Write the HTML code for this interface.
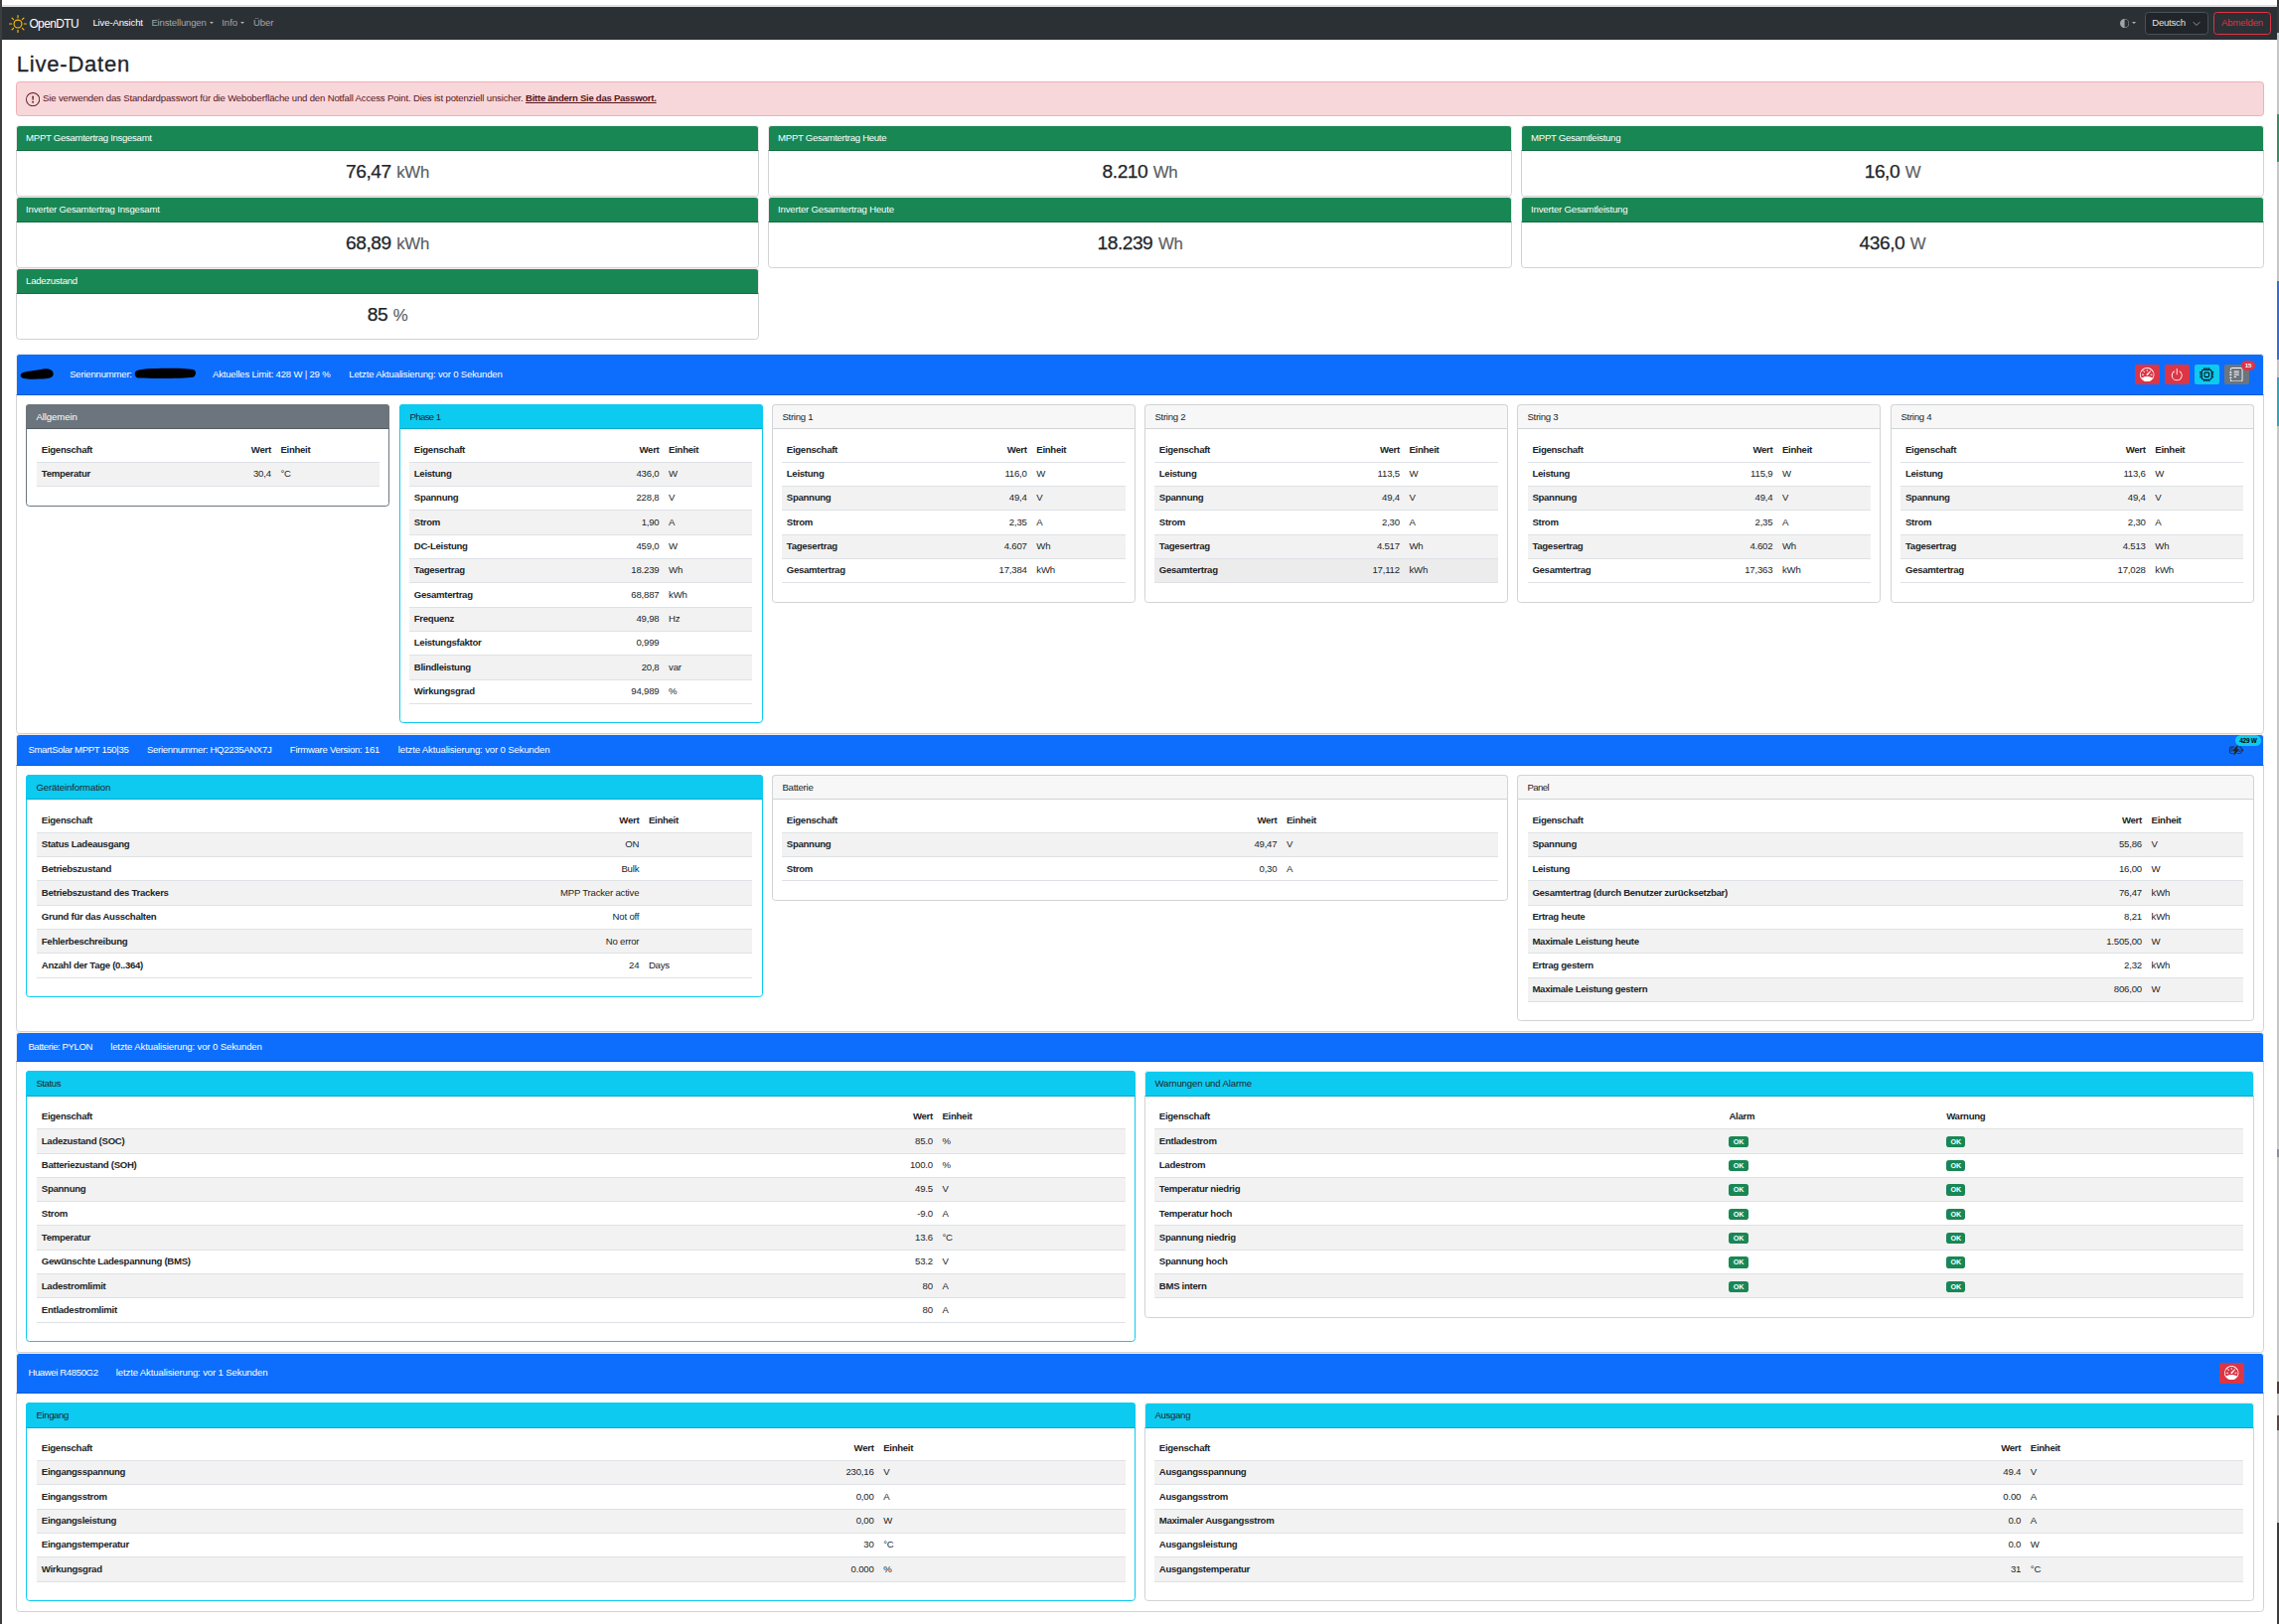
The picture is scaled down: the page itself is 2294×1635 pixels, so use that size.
<!DOCTYPE html>
<html lang="de"><head><meta charset="utf-8"><title>OpenDTU</title><style>
*{box-sizing:border-box}
html,body{margin:0;padding:0}
body{width:2294px;height:1635px;position:relative;overflow:hidden;background:#fff;
 font-family:"Liberation Sans",sans-serif;font-size:9.6px;line-height:14.4px;color:#212529;letter-spacing:-0.2px}
.a{position:absolute}
.nw{white-space:nowrap}
svg{display:block}
#lbar{left:0;top:0;width:2px;height:1635px;background:#3d3d3d}
#tline{left:2px;top:5px;width:2290px;height:2px;background:#dddfe1}
#nav{left:2px;top:7px;width:2290px;height:32.6px;background:#2b3035}
.nl{top:15.6px;height:14.4px;color:#a3a6a9;white-space:nowrap}
.caret{width:0;height:0;border-left:2.1px solid transparent;border-right:2.1px solid transparent;border-top:2.3px solid #b4b7ba}
#sel{left:2159.1px;top:12.1px;width:63.7px;height:22.8px;background:#212529;border:1px solid #495057;border-radius:3.6px}
#btnout{left:2228px;top:12.1px;width:58px;height:22.8px;border:1px solid #dc3545;border-radius:3.6px;color:#dc3545;text-align:center;line-height:20.4px;letter-spacing:-0.14px}
#h1{left:16.8px;top:49.5px;font-size:22px;line-height:30px;letter-spacing:0.78px;white-space:nowrap;-webkit-text-stroke:0.3px #212529}
#alert{left:16.3px;top:82px;width:2262.3px;height:35px;background:#f8d7da;border:1px solid #f1aeb5;border-radius:3.6px;color:#58151c}
.g{border:1px solid #d2d3d4;border-radius:3.6px;background:#fff;height:72px}
.gh{left:-1px;right:-1px;top:-1px;height:26px;border:1px solid #f2eaeb;border-bottom:1px solid #146c43;border-radius:3.6px 3.6px 0 0;background:#198754;color:#fff;padding-left:9.1px;line-height:24.2px;white-space:nowrap;letter-spacing:-0.29px}
.gb{left:0;right:0;top:25px;bottom:0;display:flex;justify-content:center;align-items:baseline;font-size:19.2px;line-height:23px;letter-spacing:-0.48px;padding-top:9.2px;white-space:nowrap;-webkit-text-stroke:0.25px #212529}
.gb small{-webkit-text-stroke:0.15px #5a5e62;font-size:16.8px;color:#5a5e62;letter-spacing:-0.29px;margin-left:5.6px}
.oc{border:1px solid #d2d3d4;border-radius:3.6px;background:#fff}
.oh{left:-1px;right:-1px;top:-1px;background:#0d6efd;border:1px solid #f4eee7;border-bottom:1px solid #0b5bd3;border-radius:3.6px 3.6px 0 0}
.ot{color:#fff;white-space:nowrap;height:14.4px}
.c{border:1px solid #d2d3d4;border-radius:3.6px;background:#fff}
.ch{left:-1px;right:-1px;top:-1px;height:25px;border:1px solid #d2d3d4;border-radius:3.6px 3.6px 0 0;background:#f7f7f7;padding-left:9.4px;line-height:23.6px;white-space:nowrap}
.c.info{border-color:#0dcaf0}
.info>.ch{background:#0dcaf0;border-color:#0dcaf0;border-bottom-color:#0ba9c9}
.ih>.ch{background:#0dcaf0;border-color:#f1ece6;border-bottom-color:#0ba9c9}
.c.sec{border-color:#6c757d}
.sec>.ch{background:#6c757d;border-color:#6c757d;color:#fff;border-bottom-color:#565e64}
table{position:absolute;border-collapse:separate;border-spacing:0;table-layout:fixed}
td,th{height:24.3125px;padding:0 4.8px;border-bottom:1px solid #dee2e6;vertical-align:middle;white-space:nowrap;overflow:visible;text-align:left;font-weight:normal}
th{font-weight:bold;letter-spacing:-0.29px}
.r{text-align:right}
tr.s>*{background:#f2f2f2}
tr.h>*{background:#ececec}
.ok{display:inline-block;background:#198754;color:#fff;font-weight:bold;font-size:7.2px;line-height:11.4px;height:11.4px;width:19.3px;text-align:center;border-radius:2.8px;letter-spacing:-0.1px;vertical-align:middle;position:relative;top:0.3px}
.btn{width:25px;height:19.8px;border-radius:2.2px}
.btn svg{position:absolute;left:5.3px;top:2.7px;width:14.4px;height:14.4px}
.bd{background:#dc3545}.bi{background:#0dcaf0}.bs{background:#6c757d}
</style></head><body>
<div class="a" id="lbar"></div><div class="a" id="tline"></div>
<div class="a" id="nav"></div>
<div class="a" style="left:9px;top:14.9px;width:18px;height:18px"><svg viewBox="0 0 16 16" fill="#ffc107" style="width:18px;height:18px"><path d="M8 11a3 3 0 1 1 0-6 3 3 0 0 1 0 6zm0 1a4 4 0 1 0 0-8 4 4 0 0 0 0 8zM8 0a.5.5 0 0 1 .5.5v2a.5.5 0 0 1-1 0v-2A.5.5 0 0 1 8 0zm0 13a.5.5 0 0 1 .5.5v2a.5.5 0 0 1-1 0v-2A.5.5 0 0 1 8 13zm8-5a.5.5 0 0 1-.5.5h-2a.5.5 0 0 1 0-1h2a.5.5 0 0 1 .5.5zM3 8a.5.5 0 0 1-.5.5h-2a.5.5 0 0 1 0-1h2A.5.5 0 0 1 3 8zm10.657-5.657a.5.5 0 0 1 0 .707l-1.414 1.415a.5.5 0 1 1-.707-.708l1.414-1.414a.5.5 0 0 1 .707 0zm-9.193 9.193a.5.5 0 0 1 0 .707L3.05 13.657a.5.5 0 0 1-.707-.707l1.414-1.414a.5.5 0 0 1 .707 0zm9.193 2.121a.5.5 0 0 1-.707 0l-1.414-1.414a.5.5 0 0 1 .707-.707l1.414 1.414a.5.5 0 0 1 0 .707zM4.464 4.465a.5.5 0 0 1-.707 0L2.343 3.05a.5.5 0 1 1 .707-.707l1.414 1.414a.5.5 0 0 1 0 .708z"/></svg></div>
<div class="a nw" style="left:29.4px;top:14.6px;font-size:12px;line-height:18px;color:#fff;letter-spacing:-0.63px">OpenDTU</div>
<div class="a nl" style="left:93.4px;color:#fff;letter-spacing:-0.15px">Live-Ansicht</div>
<div class="a nl" style="left:152.4px;letter-spacing:-0.18px">Einstellungen</div><div class="a caret" style="left:210.5px;top:22.2px"></div>
<div class="a nl" style="left:223.2px;letter-spacing:0">Info</div><div class="a caret" style="left:242.1px;top:22.2px"></div>
<div class="a nl" style="left:255px;letter-spacing:-0.15px">Über</div>
<div class="a" style="left:2133.8px;top:18.9px;width:9.2px;height:9.2px"><svg viewBox="0 0 16 16" fill="#a3a6a9" style="width:9.2px;height:9.2px"><path d="M8 15A7 7 0 1 0 8 1v14zm0 1A8 8 0 1 1 8 0a8 8 0 0 1 0 16z"/></svg></div><div class="a caret" style="left:2146.2px;top:22px"></div>
<div class="a" id="sel"></div><div class="a nw" style="left:2166.2px;top:16.2px;color:#dee2e6;letter-spacing:-0.23px">Deutsch</div>
<svg class="a" style="left:2206.6px;top:20.6px;width:8px;height:6px" viewBox="0 0 8 6" fill="none" stroke="#aeb2b6" stroke-width="0.8" stroke-linecap="round" stroke-linejoin="round"><path d="M1 1.5l3 3 3-3"/></svg>
<div class="a" id="btnout">Abmelden</div>
<div class="a" id="h1">Live-Daten</div>
<div class="a" id="alert"><div class="a" style="left:8.7px;top:10.2px;width:14.2px;height:14.2px"><svg viewBox="0 0 16 16" fill="#58151c" style="width:14.2px;height:14.2px"><path d="M8 15A7 7 0 1 1 8 1a7 7 0 0 1 0 14zm0 1A8 8 0 1 0 8 0a8 8 0 0 0 0 16z"/><path d="M7.002 11a1 1 0 1 1 2 0 1 1 0 0 1-2 0zM7.1 4.995a.905.905 0 1 1 1.8 0l-.35 3.507a.552.552 0 0 1-1.1 0L7.1 4.995z"/></svg></div><div class="a nw" style="left:25.8px;top:8.6px;letter-spacing:-0.175px">Sie verwenden das Standardpasswort für die Weboberfläche und den Notfall Access Point. Dies ist potenziell unsicher. <b style="letter-spacing:-0.29px;text-decoration:underline">Bitte ändern Sie das Passwort.</b></div></div>
<div class="a g" style="left:16px;top:126px;width:748px"><div class="a gh" style="letter-spacing:-0.3px">MPPT Gesamtertrag Insgesamt</div><div class="a gb">76,47<small>kWh</small></div></div>
<div class="a g" style="left:773px;top:126px;width:749px"><div class="a gh" style="letter-spacing:-0.3px">MPPT Gesamtertrag Heute</div><div class="a gb">8.210<small>Wh</small></div></div>
<div class="a g" style="left:1531px;top:126px;width:748px"><div class="a gh" style="letter-spacing:-0.3px">MPPT Gesamtleistung</div><div class="a gb">16,0<small>W</small></div></div>
<div class="a g" style="left:16px;top:198px;width:748px"><div class="a gh" style="letter-spacing:-0.2px">Inverter Gesamtertrag Insgesamt</div><div class="a gb">68,89<small>kWh</small></div></div>
<div class="a g" style="left:773px;top:198px;width:749px"><div class="a gh" style="letter-spacing:-0.2px">Inverter Gesamtertrag Heute</div><div class="a gb">18.239<small>Wh</small></div></div>
<div class="a g" style="left:1531px;top:198px;width:748px"><div class="a gh" style="letter-spacing:-0.2px">Inverter Gesamtleistung</div><div class="a gb">436,0<small>W</small></div></div>
<div class="a g" style="left:16px;top:270px;width:748px"><div class="a gh" style="letter-spacing:-0.3px">Ladezustand</div><div class="a gb">85<small>%</small></div></div>
<div class="a oc" style="left:16px;top:356px;width:2263px;height:383px"><div class="a oh" style="height:42px"></div></div><div class="a ot" style="left:70.20px;top:369.80px;letter-spacing:-0.23px">Seriennummer:</div><div class="a ot" style="left:214px;top:369.80px;letter-spacing:-0.21px">Aktuelles Limit: 428 W | 29 %</div><div class="a ot" style="left:351.30px;top:369.80px;letter-spacing:-0.183px">Letzte Aktualisierung: vor 0 Sekunden</div>
<svg class="a" style="left:20.4px;top:369.6px;width:35px;height:13px" viewBox="0 0 35 13"><path d="M.8 7.4C1.4 5 5 4.200 11 3.500c5-.6 9-1.400 12.500-1.900 3-.5 5.600-.5 7.200.6 1.800.4 3 2.200 3 4.300.1 2.300-1.700 3.700-4.700 4.300-6 1-17 1.300-23.500.4C2.300 10.700.300 9.600.8 7.400z" fill="#000"/></svg>
<svg class="a" style="left:135px;top:369.6px;width:63px;height:12px" viewBox="0 0 63 12"><path d="M1.200 4.600C3 1.600 12 1.200 28 .8c15-.4 28 0 32.600 1.600 2.400 1.800 1.600 6-1.400 7.400-6 1.200-40 1.600-55 .8C1 10 .2 7 1.200 4.600z" fill="#000"/></svg>
<div class="a btn bd" style="left:2149.10px;top:367.10px"><svg viewBox="0 0 16 16" fill="#fff" style=""><path d="M8 2a.5.5 0 0 1 .5.5V4a.5.5 0 0 1-1 0V2.5A.5.5 0 0 1 8 2zM3.732 3.732a.5.5 0 0 1 .707 0l.915.914a.5.5 0 1 1-.708.708l-.914-.915a.5.5 0 0 1 0-.707zM2 8a.5.5 0 0 1 .5-.5h1.586a.5.5 0 0 1 0 1H2.5A.5.5 0 0 1 2 8zm9.5 0a.5.5 0 0 1 .5-.5h1.5a.5.5 0 0 1 0 1H12a.5.5 0 0 1-.5-.5zm.754-4.246a.389.389 0 0 0-.527-.02L7.547 7.31A.91.91 0 1 0 8.85 8.569l3.434-4.297a.389.389 0 0 0-.029-.518z"/><path fill-rule="evenodd" d="M6.664 15.889A8 8 0 1 1 9.336.11a8 8 0 0 1-2.672 15.78zm-4.665-4.283A11.945 11.945 0 0 1 8 10c2.186 0 4.236.585 6.001 1.606a7 7 0 1 0-12.002 0z"/></svg></div>
<div class="a btn bd" style="left:2179.10px;top:367.10px"><svg viewBox="0 0 16 16" fill="#fff" style=""><path d="M7.5 1v7h1V1h-1z"/><path d="M3 8.812a4.999 4.999 0 0 1 2.578-4.375l-.485-.874A6 6 0 1 0 11 3.616l-.501.865A5 5 0 1 1 3 8.812z"/></svg></div>
<div class="a btn bi" style="left:2209px;top:367.10px"><svg viewBox="0 0 16 16" fill="#000" style=""><path d="M5 0a.5.5 0 0 1 .5.5V2h1V.5a.5.5 0 0 1 1 0V2h1V.5a.5.5 0 0 1 1 0V2h1V.5a.5.5 0 0 1 1 0V2A2.5 2.5 0 0 1 14 4.5h1.5a.5.5 0 0 1 0 1H14v1h1.5a.5.5 0 0 1 0 1H14v1h1.5a.5.5 0 0 1 0 1H14v1h1.5a.5.5 0 0 1 0 1H14a2.5 2.5 0 0 1-2.5 2.5v1.5a.5.5 0 0 1-1 0V14h-1v1.5a.5.5 0 0 1-1 0V14h-1v1.5a.5.5 0 0 1-1 0V14h-1v1.5a.5.5 0 0 1-1 0V14A2.5 2.5 0 0 1 2 11.5H.5a.5.5 0 0 1 0-1H2v-1H.5a.5.5 0 0 1 0-1H2v-1H.5a.5.5 0 0 1 0-1H2v-1H.5a.5.5 0 0 1 0-1H2A2.5 2.5 0 0 1 4.5 2V.5A.5.5 0 0 1 5 0zm-.5 3A1.5 1.5 0 0 0 3 4.5v7A1.5 1.5 0 0 0 4.5 13h7a1.5 1.5 0 0 0 1.5-1.5v-7A1.5 1.5 0 0 0 11.5 3h-7zM5 6.5A1.5 1.5 0 0 1 6.5 5h3A1.5 1.5 0 0 1 11 6.5v3A1.5 1.5 0 0 1 9.5 11h-3A1.5 1.5 0 0 1 5 9.500v-3zM6.5 6a.5.5 0 0 0-.5.5v3a.5.5 0 0 0 .5.5h3a.5.5 0 0 0 .5-.5v-3a.5.5 0 0 0-.5-.5h-3z"/></svg></div>
<div class="a btn bs" style="left:2239px;top:367.10px"><svg viewBox="0 0 16 16" fill="#fff" style=""><path d="M5 10.5a.5.5 0 0 1 .5-.5h2a.5.5 0 0 1 0 1h-2a.5.5 0 0 1-.5-.5zm0-2a.5.5 0 0 1 .5-.5h5a.5.5 0 0 1 0 1h-5a.5.5 0 0 1-.5-.5zm0-2a.5.5 0 0 1 .5-.5h5a.5.5 0 0 1 0 1h-5a.5.5 0 0 1-.5-.5zm0-2a.5.5 0 0 1 .5-.5h5a.5.5 0 0 1 0 1h-5a.5.5 0 0 1-.5-.5z"/><path d="M3 0h10a2 2 0 0 1 2 2v12a2 2 0 0 1-2 2H3a2 2 0 0 1-2-2v-1h1v1a1 1 0 0 0 1 1h10a1 1 0 0 0 1-1V2a1 1 0 0 0-1-1H3a1 1 0 0 0-1 1v1H1V2a2 2 0 0 1 2-2z"/><path d="M1 5v-.5a.5.5 0 0 1 1 0V5h.5a.5.5 0 0 1 0 1h-2a.5.5 0 0 1 0-1H1zm0 3v-.5a.5.5 0 0 1 1 0V8h.5a.5.5 0 0 1 0 1h-2a.5.5 0 0 1 0-1H1zm0 3v-.5a.5.5 0 0 1 1 0v.5h.5a.5.5 0 0 1 0 1h-2a.5.5 0 0 1 0-1H1z"/></svg></div>
<div class="a" style="left:2255.8px;top:363px;width:14.4px;height:9.9px;border-radius:5px;background:#dc3545;color:#fff;font-weight:bold;font-size:6.2px;line-height:9.9px;text-align:center;letter-spacing:-0.2px">15</div>
<div class="a c sec" style="left:26px;top:407px;width:366px;height:103px"><div class="a ch" style="height:25px;letter-spacing:-0.09px">Allgemein</div><table style="left:10px;top:33.40px;width:345px"><colgroup><col style="width:130.60px"><col style="width:110px"><col style="width:104.40px"></colgroup><tr><th>Eigenschaft</th><th class="r">Wert</th><th>Einheit</th></tr><tr class="s"><th>Temperatur</th><td class="r">30,4</td><td>°C</td></tr></table></div>
<div class="a c info" style="left:402px;top:407px;width:366px;height:321px"><div class="a ch" style="height:25px;letter-spacing:-0.6px">Phase 1</div><table style="left:9px;top:33.40px;width:345px"><colgroup><col style="width:146.30px"><col style="width:110px"><col style="width:88.70px"></colgroup><tr><th>Eigenschaft</th><th class="r">Wert</th><th>Einheit</th></tr><tr class="s"><th>Leistung</th><td class="r">436,0</td><td>W</td></tr><tr><th>Spannung</th><td class="r">228,8</td><td>V</td></tr><tr class="s"><th>Strom</th><td class="r">1,90</td><td>A</td></tr><tr><th>DC-Leistung</th><td class="r">459,0</td><td>W</td></tr><tr class="s"><th>Tagesertrag</th><td class="r">18.239</td><td>Wh</td></tr><tr><th>Gesamtertrag</th><td class="r">68,887</td><td>kWh</td></tr><tr class="s"><th>Frequenz</th><td class="r">49,98</td><td>Hz</td></tr><tr><th>Leistungsfaktor</th><td class="r">0,999</td><td></td></tr><tr class="s"><th>Blindleistung</th><td class="r">20,8</td><td>var</td></tr><tr><th>Wirkungsgrad</th><td class="r">94,989</td><td>%</td></tr></table></div>
<div class="a c" style="left:777px;top:407px;width:366px;height:200px"><div class="a ch" style="height:25px;letter-spacing:-0.27px">String 1</div><table style="left:9px;top:33.40px;width:346px"><colgroup><col style="width:141.50px"><col style="width:110px"><col style="width:94.50px"></colgroup><tr><th>Eigenschaft</th><th class="r">Wert</th><th>Einheit</th></tr><tr><th>Leistung</th><td class="r">116,0</td><td>W</td></tr><tr class="s"><th>Spannung</th><td class="r">49,4</td><td>V</td></tr><tr><th>Strom</th><td class="r">2,35</td><td>A</td></tr><tr class="s"><th>Tagesertrag</th><td class="r">4.607</td><td>Wh</td></tr><tr><th>Gesamtertrag</th><td class="r">17,384</td><td>kWh</td></tr></table></div>
<div class="a c" style="left:1152px;top:407px;width:366px;height:200px"><div class="a ch" style="height:25px;letter-spacing:-0.27px">String 2</div><table style="left:9px;top:33.40px;width:346px"><colgroup><col style="width:141.70px"><col style="width:110px"><col style="width:94.30px"></colgroup><tr><th>Eigenschaft</th><th class="r">Wert</th><th>Einheit</th></tr><tr><th>Leistung</th><td class="r">113,5</td><td>W</td></tr><tr class="s"><th>Spannung</th><td class="r">49,4</td><td>V</td></tr><tr><th>Strom</th><td class="r">2,30</td><td>A</td></tr><tr class="s"><th>Tagesertrag</th><td class="r">4.517</td><td>Wh</td></tr><tr class="h"><th>Gesamtertrag</th><td class="r">17,112</td><td>kWh</td></tr></table></div>
<div class="a c" style="left:1527px;top:407px;width:366px;height:200px"><div class="a ch" style="height:25px;letter-spacing:-0.27px">String 3</div><table style="left:9.60px;top:33.40px;width:345.40px"><colgroup><col style="width:141.60px"><col style="width:110px"><col style="width:93.80px"></colgroup><tr><th>Eigenschaft</th><th class="r">Wert</th><th>Einheit</th></tr><tr><th>Leistung</th><td class="r">115,9</td><td>W</td></tr><tr class="s"><th>Spannung</th><td class="r">49,4</td><td>V</td></tr><tr><th>Strom</th><td class="r">2,35</td><td>A</td></tr><tr class="s"><th>Tagesertrag</th><td class="r">4.602</td><td>Wh</td></tr><tr><th>Gesamtertrag</th><td class="r">17,363</td><td>kWh</td></tr></table></div>
<div class="a c" style="left:1903px;top:407px;width:366px;height:200px"><div class="a ch" style="height:25px;letter-spacing:-0.27px">String 4</div><table style="left:9.20px;top:33.40px;width:344.80px"><colgroup><col style="width:141.30px"><col style="width:110px"><col style="width:93.50px"></colgroup><tr><th>Eigenschaft</th><th class="r">Wert</th><th>Einheit</th></tr><tr><th>Leistung</th><td class="r">113,6</td><td>W</td></tr><tr class="s"><th>Spannung</th><td class="r">49,4</td><td>V</td></tr><tr><th>Strom</th><td class="r">2,30</td><td>A</td></tr><tr class="s"><th>Tagesertrag</th><td class="r">4.513</td><td>Wh</td></tr><tr><th>Gesamtertrag</th><td class="r">17,028</td><td>kWh</td></tr></table></div>
<div class="a oc" style="left:16px;top:739px;width:2263px;height:300px"><div class="a oh" style="height:32px"></div></div><div class="a ot" style="left:28.40px;top:747.80px;letter-spacing:-0.36px">SmartSolar MPPT 150|35</div><div class="a ot" style="left:148px;top:747.80px;letter-spacing:-0.34px">Seriennummer: HQ2235ANX7J</div><div class="a ot" style="left:291.80px;top:747.80px;letter-spacing:-0.275px">Firmware Version: 161</div><div class="a ot" style="left:400.80px;top:747.80px;letter-spacing:-0.143px">letzte Aktualisierung: vor 0 Sekunden</div>
<svg class="a" viewBox="0 0 16 16" fill="#212529" style="left:2243.9px;top:748px;width:14.4px;height:14.4px"><path d="M9.585 2.568a.5.5 0 0 1 .226.58L8.677 6.832h1.99a.5.5 0 0 1 .364.843l-5.334 5.667a.5.5 0 0 1-.842-.49L5.99 9.167H4a.5.5 0 0 1-.364-.843l5.333-5.667a.5.5 0 0 1 .616-.09z"/><path d="M2 4h4.332l-.94 1H2a1 1 0 0 0-1 1v4a1 1 0 0 0 1 1h2.38l-.308 1H2a2 2 0 0 1-2-2V6a2 2 0 0 1 2-2z"/><path d="M2 6h2.45L2.908 7.639A1.5 1.5 0 0 0 3.313 10H2V6zm8.595-2l-.308 1H12a1 1 0 0 1 1 1v4a1 1 0 0 1-1 1H9.276l-.942 1H12a2 2 0 0 0 2-2V6a2 2 0 0 0-2-2h-1.405z"/><path d="M12 10h-1.783l1.542-1.639c.097-.103.178-.218.241-.34V10zm0-3.354V6h-.646a1.5 1.5 0 0 1 .646.646zM16 8a1.5 1.5 0 0 1-1.5 1.5v-3A1.5 1.5 0 0 1 16 8z"/></svg>
<div class="a" style="left:2249.9px;top:739.8px;width:26.1px;height:11.1px;border-radius:5.6px;background:#0dcaf0;color:#000;font-weight:bold;font-size:6.4px;line-height:11.1px;text-align:center;letter-spacing:-0.2px">429 W</div>
<div class="a c info" style="left:26px;top:780px;width:742px;height:224px"><div class="a ch" style="height:25px;letter-spacing:-0.12px">Geräteinformation</div><table style="left:10px;top:33.50px;width:720px"><colgroup><col style="width:501.10px"><col style="width:110px"><col style="width:108.90px"></colgroup><tr><th>Eigenschaft</th><th class="r">Wert</th><th>Einheit</th></tr><tr class="s"><th>Status Ladeausgang</th><td class="r">ON</td><td></td></tr><tr><th>Betriebszustand</th><td class="r">Bulk</td><td></td></tr><tr class="s"><th>Betriebszustand des Trackers</th><td class="r">MPP Tracker active</td><td></td></tr><tr><th>Grund für das Ausschalten</th><td class="r">Not off</td><td></td></tr><tr class="s"><th>Fehlerbeschreibung</th><td class="r">No error</td><td></td></tr><tr><th>Anzahl der Tage (0..364)</th><td class="r">24</td><td>Days</td></tr></table></div>
<div class="a c" style="left:777px;top:780px;width:741px;height:127px"><div class="a ch" style="height:25px;letter-spacing:-0.235px">Batterie</div><table style="left:9px;top:33.50px;width:721px"><colgroup><col style="width:393.20px"><col style="width:110px"><col style="width:217.80px"></colgroup><tr><th>Eigenschaft</th><th class="r">Wert</th><th>Einheit</th></tr><tr class="s"><th>Spannung</th><td class="r">49,47</td><td>V</td></tr><tr><th>Strom</th><td class="r">0,30</td><td>A</td></tr></table></div>
<div class="a c" style="left:1527px;top:780px;width:742px;height:248px"><div class="a ch" style="height:25px;letter-spacing:-0.59px">Panel</div><table style="left:9.60px;top:33.50px;width:720.40px"><colgroup><col style="width:513.20px"><col style="width:110px"><col style="width:97.20px"></colgroup><tr><th>Eigenschaft</th><th class="r">Wert</th><th>Einheit</th></tr><tr class="s"><th>Spannung</th><td class="r">55,86</td><td>V</td></tr><tr><th>Leistung</th><td class="r">16,00</td><td>W</td></tr><tr class="s"><th>Gesamtertrag (durch Benutzer zurücksetzbar)</th><td class="r">76,47</td><td>kWh</td></tr><tr><th>Ertrag heute</th><td class="r">8,21</td><td>kWh</td></tr><tr class="s"><th>Maximale Leistung heute</th><td class="r">1.505,00</td><td>W</td></tr><tr><th>Ertrag gestern</th><td class="r">2,32</td><td>kWh</td></tr><tr class="s"><th>Maximale Leistung gestern</th><td class="r">806,00</td><td>W</td></tr></table></div>
<div class="a oc" style="left:16px;top:1039px;width:2263px;height:323px"><div class="a oh" style="height:30px"></div></div><div class="a ot" style="left:28.40px;top:1046.70px;letter-spacing:-0.42px">Batterie: PYLON</div><div class="a ot" style="left:111.20px;top:1046.70px;letter-spacing:-0.143px">letzte Aktualisierung: vor 0 Sekunden</div>
<div class="a c info" style="left:26px;top:1078px;width:1117px;height:273px"><div class="a ch" style="height:26px;letter-spacing:-0.43px">Status</div><table style="left:10px;top:33.90px;width:1096px"><colgroup><col style="width:796.70px"><col style="width:110px"><col style="width:189.30px"></colgroup><tr><th>Eigenschaft</th><th class="r">Wert</th><th>Einheit</th></tr><tr class="s"><th>Ladezustand (SOC)</th><td class="r">85.0</td><td>%</td></tr><tr><th>Batteriezustand (SOH)</th><td class="r">100.0</td><td>%</td></tr><tr class="s"><th>Spannung</th><td class="r">49.5</td><td>V</td></tr><tr><th>Strom</th><td class="r">-9.0</td><td>A</td></tr><tr class="s"><th>Temperatur</th><td class="r">13.6</td><td>°C</td></tr><tr><th>Gewünschte Ladespannung (BMS)</th><td class="r">53.2</td><td>V</td></tr><tr class="s"><th>Ladestromlimit</th><td class="r">80</td><td>A</td></tr><tr><th>Entladestromlimit</th><td class="r">80</td><td>A</td></tr></table></div>
<div class="a c ih" style="left:1152px;top:1078px;width:1117px;height:249px"><div class="a ch" style="height:26px;letter-spacing:-0.14px">Warnungen und Alarme</div><table style="left:9px;top:33.90px;width:1096px"><colgroup><col style="width:573.60px"><col style="width:218.80px"><col style="width:303.60px"></colgroup><tr><th>Eigenschaft</th><th>Alarm</th><th>Warnung</th></tr><tr class="s"><th>Entladestrom</th><td><span class="ok">OK</span></td><td><span class="ok">OK</span></td></tr><tr><th>Ladestrom</th><td><span class="ok">OK</span></td><td><span class="ok">OK</span></td></tr><tr class="s"><th>Temperatur niedrig</th><td><span class="ok">OK</span></td><td><span class="ok">OK</span></td></tr><tr><th>Temperatur hoch</th><td><span class="ok">OK</span></td><td><span class="ok">OK</span></td></tr><tr class="s"><th>Spannung niedrig</th><td><span class="ok">OK</span></td><td><span class="ok">OK</span></td></tr><tr><th>Spannung hoch</th><td><span class="ok">OK</span></td><td><span class="ok">OK</span></td></tr><tr class="s"><th>BMS intern</th><td><span class="ok">OK</span></td><td><span class="ok">OK</span></td></tr></table></div>
<div class="a oc" style="left:16px;top:1362px;width:2263px;height:261px"><div class="a oh" style="height:41px"></div></div><div class="a ot" style="left:28.40px;top:1374.50px;letter-spacing:-0.395px">Huawei R4850G2</div><div class="a ot" style="left:116.80px;top:1374.50px;letter-spacing:-0.143px">letzte Aktualisierung: vor 1 Sekunden</div>
<div class="a btn bd" style="left:2234px;top:1372px;height:21px"><svg viewBox="0 0 16 16" fill="#fff" style=""><path d="M8 2a.5.5 0 0 1 .5.5V4a.5.5 0 0 1-1 0V2.5A.5.5 0 0 1 8 2zM3.732 3.732a.5.5 0 0 1 .707 0l.915.914a.5.5 0 1 1-.708.708l-.914-.915a.5.5 0 0 1 0-.707zM2 8a.5.5 0 0 1 .5-.5h1.586a.5.5 0 0 1 0 1H2.5A.5.5 0 0 1 2 8zm9.5 0a.5.5 0 0 1 .5-.5h1.5a.5.5 0 0 1 0 1H12a.5.5 0 0 1-.5-.5zm.754-4.246a.389.389 0 0 0-.527-.02L7.547 7.31A.91.91 0 1 0 8.85 8.569l3.434-4.297a.389.389 0 0 0-.029-.518z"/><path fill-rule="evenodd" d="M6.664 15.889A8 8 0 1 1 9.336.11a8 8 0 0 1-2.672 15.78zm-4.665-4.283A11.945 11.945 0 0 1 8 10c2.186 0 4.236.585 6.001 1.606a7 7 0 1 0-12.002 0z"/></svg></div>
<div class="a c info" style="left:26px;top:1412px;width:1117px;height:200px"><div class="a ch" style="height:26px;letter-spacing:-0.37px">Eingang</div><table style="left:10px;top:33.70px;width:1096px"><colgroup><col style="width:737.40px"><col style="width:110px"><col style="width:248.60px"></colgroup><tr><th>Eigenschaft</th><th class="r">Wert</th><th>Einheit</th></tr><tr class="s"><th>Eingangsspannung</th><td class="r">230,16</td><td>V</td></tr><tr><th>Eingangsstrom</th><td class="r">0,00</td><td>A</td></tr><tr class="s"><th>Eingangsleistung</th><td class="r">0,00</td><td>W</td></tr><tr><th>Eingangstemperatur</th><td class="r">30</td><td>°C</td></tr><tr class="s"><th>Wirkungsgrad</th><td class="r">0.000</td><td>%</td></tr></table></div>
<div class="a c ih" style="left:1152px;top:1412px;width:1117px;height:200px"><div class="a ch" style="height:26px;letter-spacing:-0.3px">Ausgang</div><table style="left:9px;top:33.70px;width:1096px"><colgroup><col style="width:767px"><col style="width:110px"><col style="width:219px"></colgroup><tr><th>Eigenschaft</th><th class="r">Wert</th><th>Einheit</th></tr><tr class="s"><th>Ausgangsspannung</th><td class="r">49.4</td><td>V</td></tr><tr><th>Ausgangsstrom</th><td class="r">0.00</td><td>A</td></tr><tr class="s"><th>Maximaler Ausgangsstrom</th><td class="r">0.0</td><td>A</td></tr><tr><th>Ausgangsleistung</th><td class="r">0.0</td><td>W</td></tr><tr class="s"><th>Ausgangstemperatur</th><td class="r">31</td><td>°C</td></tr></table></div>
<div class="a" style="left:2292px;top:0;width:2px;height:1635px;background:#c6c6c6"></div>
<div class="a" style="left:2292px;top:0px;width:2px;height:33px;background:#3a3a3a"></div>
<div class="a" style="left:2292px;top:115px;width:2px;height:48px;background:#3f8b63"></div>
<div class="a" style="left:2292px;top:283px;width:2px;height:79px;background:#3470d2"></div>
<div class="a" style="left:2292px;top:380px;width:2px;height:49px;background:#2fa6bb"></div>
<div class="a" style="left:2292px;top:1157px;width:2px;height:8px;background:#8a8f99"></div>
<div class="a" style="left:2292px;top:1391px;width:2px;height:12px;background:#4d3f3b"></div>
<div class="a" style="left:2292px;top:1425px;width:2px;height:15px;background:#5a4a46"></div>
<div class="a" style="left:2292px;top:1533px;width:2px;height:102px;background:#3d3d3d"></div>
</body></html>
